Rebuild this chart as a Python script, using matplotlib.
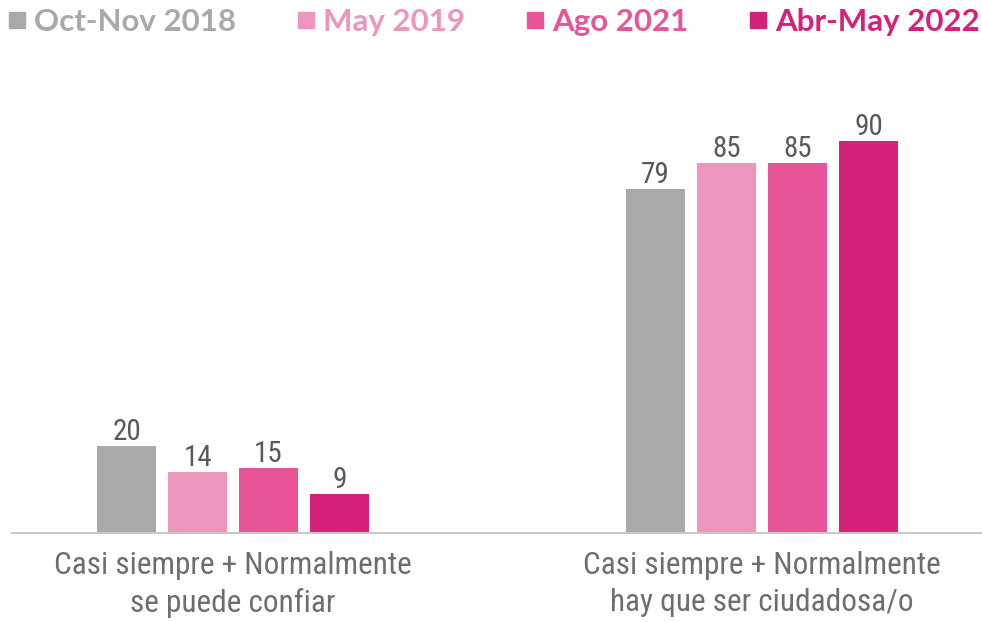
import numpy as np
import matplotlib
matplotlib.use('Agg')
import matplotlib.pyplot as plt
from matplotlib.lines import Line2D

categories = ['Casi siempre + Normalmente\nse puede confiar',
              'Casi siempre + Normalmente\nhay que ser ciudadosa/o']
series = ['Oct-Nov 2018', 'May 2019', 'Ago 2021', 'Abr-May 2022']
oct_nov_2018 = [20, 79]
may_2019 = [14, 85]
ago_2021 = [15, 85]
abr_may_2022 = [9, 90]
colors = ['#A9A9A9', '#EC96BF', '#E85497', '#D4217A']

values = [oct_nov_2018, may_2019, ago_2021, abr_may_2022]
narrow = ['Roboto Condensed', 'DejaVu Sans']
legend_font = ['Lato', 'DejaVu Sans']

fig = plt.figure(figsize=(9.82, 6.22), dpi=100)
ax = fig.add_axes([12 / 982, 89 / 622, 970 / 982, 435.6 / 622])

x = np.arange(len(categories))
step = 0.1342
width = 0.1115
for i, vals in enumerate(values):
    bars = ax.bar(x + (i - 1.5) * step, vals, width, color=colors[i])
    ax.bar_label(bars, padding=0, fontsize=21, color='#595959', family=narrow)

ax.set_xlim(-0.418, 1.416)
ax.set_ylim(0, 100)
ax.set_yticks([])
ax.set_xticks(x)
ax.set_xticklabels(categories, fontsize=22.5, color='#6E6E6E', family=narrow, linespacing=1.35)
ax.tick_params(axis='x', length=0, pad=13)
for s in ['top', 'right', 'left']:
    ax.spines[s].set_visible(False)
ax.spines['bottom'].set_color('#C8C8C8')
ax.spines['bottom'].set_linewidth(1.5)

handles = [Line2D([], [], marker='s', linestyle='', markersize=11, color=c) for c in colors]
fig.legend(handles, series, loc='upper left', bbox_to_anchor=(-0.021, 1.023), ncol=4,
           frameon=False, labelcolor=colors, handletextpad=0.05, columnspacing=1.73,
           handlelength=1.0, borderaxespad=0.3,
           prop={'family': legend_font, 'weight': 'bold', 'size': 22.5})

fig.savefig('out.png', dpi=100)
